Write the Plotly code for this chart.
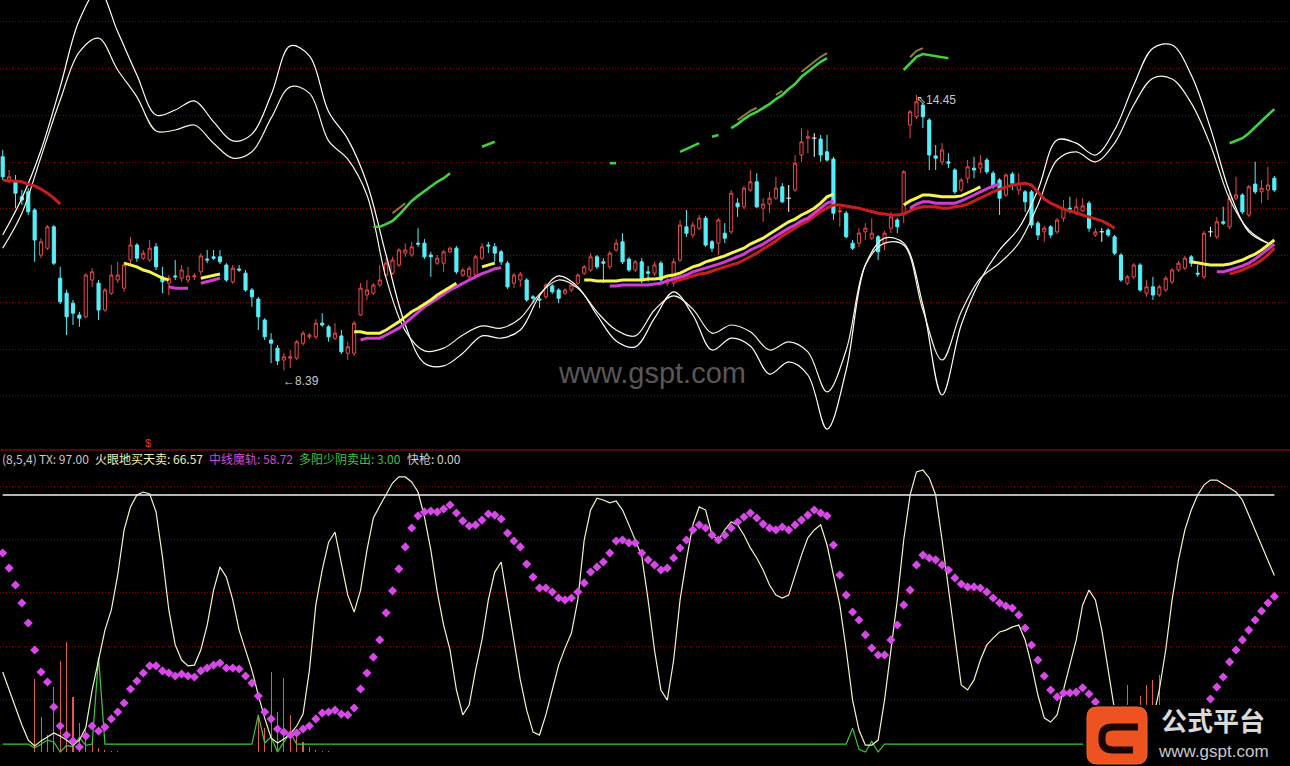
import plotly.graph_objects as go

# ---------------- candles (price) ----------------
open_ = [13.09, 12.58, 12.54, 12.21, 12.32, 11.92, 10.93, 11.08, 11.55, 10.42,
 10.09, 9.87, 9.61, 9.57, 10.38, 10.31, 9.72, 10.09, 10.38, 10.20,
 10.82, 11.15, 10.86, 10.82, 11.11, 10.45, 10.31, 10.47, 10.42, 10.38,
 10.45, 10.56, 10.84, 10.89, 10.89, 10.71, 10.34, 10.62, 10.53, 10.16,
 9.96, 9.50, 9.06, 8.88, 8.62, 8.66, 8.66, 8.99, 9.13, 9.13,
 9.43, 9.35, 9.10, 9.15, 8.77, 8.77, 9.61, 10.05, 10.09, 10.27,
 10.49, 10.53, 10.71, 10.97, 10.93, 11.19, 11.19, 10.93, 10.75, 10.75,
 11.00, 11.08, 10.49, 10.45, 10.49, 10.86, 11.15, 11.11, 11.00, 10.75,
 10.31, 10.38, 10.38, 10.01, 9.96, 10.01, 10.25, 10.16, 10.09, 10.16,
 10.31, 10.53, 10.60, 10.89, 10.78, 10.67, 11.04, 11.22, 10.84, 10.60,
 10.78, 10.56, 10.53, 10.75, 10.31, 10.31, 10.82, 11.55, 11.37, 11.52,
 11.74, 11.22, 11.19, 11.41, 11.44, 12.07, 11.99, 12.36, 12.54, 11.96,
 12.05, 12.18, 12.43, 12.18, 12.36, 13.13, 13.50, 13.50, 13.48, 13.20,
 13.04, 11.88, 11.85, 11.19, 11.19, 11.44, 11.30, 11.33, 11.19, 11.52,
 11.70, 11.85, 13.79, 13.97, 14.23, 13.90, 13.11, 12.98, 12.98, 12.80,
 12.36, 12.62, 12.84, 12.84, 13.02, 12.73, 12.58, 12.25, 12.71, 12.36,
 12.32, 12.32, 11.63, 11.44, 11.55, 11.44, 11.74, 11.96, 11.85, 11.90,
 12.07, 11.37, 11.44, 11.48, 11.33, 10.93, 10.31, 10.45, 10.71, 10.09,
 10.23, 10.05, 10.16, 10.34, 10.60, 10.64, 10.89, 10.53, 10.45, 11.44,
 11.33, 11.66, 11.55, 12.18, 12.25, 11.81, 12.49, 12.32, 12.36, 12.62]
high_ = [13.24, 12.80, 12.69, 12.36, 12.40, 11.96, 11.30, 11.59, 11.59, 10.67,
 10.16, 9.94, 9.68, 10.53, 10.64, 10.38, 10.20, 10.71, 10.78, 10.78,
 11.33, 11.19, 11.04, 11.26, 11.19, 10.67, 10.49, 10.82, 10.71, 10.67,
 10.53, 10.97, 11.04, 11.04, 11.04, 10.75, 10.71, 10.71, 10.60, 10.20,
 10.01, 9.54, 9.21, 8.95, 8.77, 8.84, 9.06, 9.26, 9.21, 9.52,
 9.65, 9.39, 9.43, 9.28, 9.02, 9.48, 10.31, 10.38, 10.31, 10.71,
 10.86, 10.89, 11.08, 11.19, 11.22, 11.52, 11.28, 11.00, 10.93, 11.04,
 11.11, 11.13, 10.64, 10.69, 10.93, 11.19, 11.22, 11.19, 11.04, 10.80,
 10.53, 10.56, 10.42, 10.05, 10.03, 10.31, 10.29, 10.20, 10.20, 10.31,
 10.53, 10.71, 10.97, 10.93, 10.86, 11.02, 11.28, 11.41, 10.89, 10.82,
 10.86, 10.69, 10.78, 10.80, 10.45, 10.86, 11.70, 11.92, 11.66, 11.81,
 11.79, 11.26, 11.74, 11.63, 12.36, 12.18, 12.45, 12.80, 12.73, 12.18,
 12.32, 12.65, 12.51, 12.47, 13.13, 13.72, 13.68, 13.61, 13.57, 13.57,
 13.09, 11.99, 11.90, 11.26, 11.52, 11.63, 11.74, 11.37, 11.46, 11.88,
 11.74, 12.80, 14.12, 14.45, 14.28, 13.94, 13.35, 13.39, 13.17, 12.84,
 12.62, 13.02, 13.09, 13.13, 13.06, 12.78, 12.62, 12.73, 12.76, 12.73,
 12.36, 12.36, 11.68, 11.57, 11.59, 11.74, 12.14, 12.21, 12.18, 12.18,
 12.12, 11.52, 11.52, 11.52, 11.37, 10.97, 10.49, 10.75, 10.75, 10.38,
 10.45, 10.27, 10.47, 10.64, 10.80, 10.91, 10.93, 10.71, 11.46, 11.55,
 11.77, 11.99, 12.29, 12.65, 12.29, 12.47, 12.98, 12.58, 12.87, 12.67]
low_ = [12.58, 12.51, 11.96, 12.03, 11.81, 10.78, 10.86, 11.04, 10.71, 9.85,
 9.17, 9.39, 9.35, 9.54, 10.23, 9.50, 9.68, 10.05, 10.31, 10.12,
 10.71, 10.78, 10.82, 10.78, 10.60, 10.09, 10.05, 10.38, 10.34, 10.31,
 10.38, 10.49, 10.75, 10.82, 10.73, 10.34, 10.29, 10.56, 10.12, 9.79,
 9.28, 9.06, 8.55, 8.51, 8.39, 8.44, 8.62, 8.93, 9.08, 9.08,
 9.35, 9.02, 9.06, 8.75, 8.62, 8.71, 9.59, 9.94, 10.05, 10.23,
 10.45, 10.49, 10.67, 10.89, 10.89, 11.11, 10.84, 10.45, 10.71, 10.56,
 10.97, 10.51, 10.45, 10.40, 10.45, 10.82, 10.97, 10.78, 10.71, 10.18,
 10.20, 10.23, 9.90, 9.87, 9.76, 9.96, 10.07, 9.87, 10.05, 10.12,
 10.27, 10.49, 10.56, 10.62, 10.31, 10.62, 11.00, 10.73, 10.56, 10.56,
 10.31, 10.34, 10.47, 10.31, 10.25, 10.23, 10.78, 11.33, 11.30, 11.48,
 11.11, 11.00, 10.93, 11.19, 11.39, 11.77, 11.94, 12.32, 11.96, 11.66,
 11.85, 12.14, 12.07, 11.88, 12.32, 12.98, 13.17, 13.09, 12.98, 12.98,
 11.70, 11.55, 11.30, 11.04, 11.11, 11.26, 11.26, 10.82, 11.04, 11.41,
 11.41, 11.63, 13.50, 13.92, 13.72, 12.80, 12.80, 12.91, 12.84, 12.27,
 12.32, 12.51, 12.62, 12.73, 12.71, 12.38, 11.81, 12.21, 12.36, 12.25,
 11.88, 11.52, 11.26, 11.22, 11.30, 11.39, 11.66, 11.85, 11.81, 11.88,
 11.44, 11.33, 11.22, 11.33, 10.93, 10.34, 10.27, 10.40, 10.12, 10.01,
 9.94, 10.01, 10.12, 10.29, 10.56, 10.60, 10.67, 10.45, 10.40, 11.33,
 11.28, 11.59, 11.50, 12.14, 11.83, 11.77, 12.27, 12.07, 12.14, 12.32]
close_ = [12.65, 12.65, 12.29, 12.14, 11.88, 11.26, 11.22, 11.55, 10.75, 9.90,
 9.57, 9.65, 9.54, 10.49, 10.56, 9.72, 10.16, 10.49, 10.49, 10.71,
 11.15, 10.86, 10.97, 11.08, 10.67, 10.34, 10.42, 10.45, 10.60, 10.47,
 10.47, 10.91, 10.82, 10.86, 10.78, 10.38, 10.64, 10.60, 10.16, 10.01,
 9.57, 9.13, 8.99, 8.60, 8.69, 8.69, 9.02, 9.21, 9.17, 9.43,
 9.39, 9.13, 9.21, 8.80, 8.91, 9.43, 10.20, 10.16, 10.27, 10.38,
 10.75, 10.82, 11.04, 11.04, 11.11, 11.17, 10.89, 10.89, 10.86, 11.00,
 11.08, 10.56, 10.60, 10.64, 10.89, 11.11, 11.13, 10.97, 10.78, 10.23,
 10.49, 10.51, 9.94, 9.98, 9.94, 10.27, 10.12, 9.98, 10.16, 10.27,
 10.49, 10.67, 10.89, 10.67, 10.75, 10.97, 11.19, 10.78, 10.60, 10.78,
 10.38, 10.53, 10.71, 10.38, 10.38, 10.78, 11.59, 11.41, 11.59, 11.74,
 11.15, 11.08, 11.70, 11.30, 12.29, 11.99, 12.40, 12.54, 11.99, 12.05,
 12.18, 12.40, 12.10, 12.18, 12.95, 13.42, 13.53, 13.50, 13.13, 13.02,
 11.85, 11.90, 11.33, 11.08, 11.41, 11.52, 11.41, 11.00, 11.41, 11.77,
 11.55, 12.76, 14.08, 14.30, 13.97, 13.13, 13.06, 13.24, 12.95, 12.32,
 12.58, 12.87, 12.80, 12.95, 12.76, 12.43, 12.18, 12.69, 12.51, 12.51,
 12.10, 11.59, 11.37, 11.52, 11.37, 11.70, 11.96, 11.94, 11.99, 12.01,
 11.52, 11.44, 11.44, 11.37, 10.97, 10.38, 10.45, 10.71, 10.16, 10.23,
 10.05, 10.23, 10.42, 10.60, 10.75, 10.86, 10.75, 10.51, 11.41, 11.44,
 11.66, 11.63, 12.18, 12.25, 11.88, 12.43, 12.32, 12.40, 12.47, 12.36]

# ---------------- white twin band (sampled every 3 bars) ----------------
band_x = [0, 3, 6, 9, 12, 15, 18, 21, 24, 27, 30, 33, 36, 39, 42, 45, 48, 51, 54, 57,
          60, 63, 66, 69, 72, 75, 78, 81, 84, 87, 90, 93, 96, 99, 102, 105, 108, 111,
          114, 117, 120, 123, 126, 129, 132, 135, 138, 141, 144, 147, 150, 153, 156,
          159, 162, 165, 168, 171, 174, 177, 180, 183, 186, 189, 192, 195, 198]
band_inner = [11.08, 11.85, 13.09, 14.34, 15.40, 15.70, 15.00, 14.41, 13.66, 13.68,
 13.79, 13.39, 13.06, 13.20, 13.94, 14.63, 14.49, 13.44, 13.04, 12.25,
 10.42, 9.26, 8.82, 8.88, 9.17, 9.37, 9.32, 9.54, 10.07, 10.38,
 10.20, 9.68, 9.28, 9.15, 9.72, 10.03, 9.74, 9.21, 9.39, 9.24,
 8.84, 9.02, 8.80, 7.92, 8.84, 10.71, 11.19, 11.15, 9.72, 8.62,
 9.68, 10.42, 10.75, 11.19, 12.03, 13.02, 13.20, 12.98, 13.39, 14.23,
 14.82, 14.80, 14.27, 13.35, 12.16, 11.48, 11.19]
band_outer = [11.37, 12.18, 13.24, 14.63, 16.10, 16.76, 15.84, 14.89, 14.01, 14.12,
 14.32, 13.86, 13.44, 13.59, 14.45, 15.53, 15.31, 14.08, 13.48, 12.51,
 10.93, 9.39, 8.55, 8.49, 8.77, 9.15, 9.10, 9.28, 10.03, 10.47,
 10.23, 9.61, 9.04, 8.91, 9.54, 10.12, 9.61, 8.84, 9.10, 8.93,
 8.31, 8.58, 8.29, 7.10, 8.40, 10.71, 11.30, 11.19, 9.83, 7.85,
 9.39, 10.38, 11.04, 11.52, 12.36, 13.46, 13.39, 13.13, 13.68, 14.67,
 15.48, 15.55, 14.89, 13.72, 12.32, 11.44, 11.19]

# ---------------- conditional line pieces: (first bar, values) ----------------
red_ma_segments = [
    (0, [12.58, 12.56, 12.56, 12.54, 12.49, 12.45, 12.38, 12.29, 12.18, 12.05]),
    (105, [10.34, 10.38, 10.42, 10.47, 10.51, 10.53, 10.58, 10.62, 10.67, 10.71,
           10.75, 10.82, 10.89, 10.97, 11.06, 11.15, 11.24, 11.35, 11.44, 11.52,
           11.61, 11.68, 11.79, 11.88, 11.96, 12.03, 12.03, 12.01, 11.99, 11.96,
           11.92, 11.88, 11.85, 11.83, 11.81, 11.81, 11.83, 11.90, 11.96, 11.99,
           11.99, 11.99, 11.96, 11.96, 11.99, 12.01, 12.05, 12.12, 12.18, 12.25,
           12.32, 12.38, 12.43, 12.47, 12.49, 12.51, 12.47, 12.32, 12.16, 12.07,
           12.01, 11.94, 11.90, 11.85, 11.81, 11.77, 11.72, 11.68, 11.61, 11.52]),
    (192, [10.51, 10.56, 10.60, 10.67, 10.73, 10.82, 10.93, 11.08]),
]
yellow_segments = [
    (19, [10.75, 10.71, 10.67, 10.60, 10.56, 10.49, 10.42, 10.38]),
    (31, [10.42, 10.45, 10.47, 10.51]),
    (55, [9.24, 9.24, 9.21, 9.21, 9.21, 9.28, 9.37, 9.46, 9.57, 9.68, 9.76, 9.85,
          9.94, 10.05, 10.14, 10.23, 10.31]),
    (75, [10.67, 10.71, 10.75]),
    (91, [10.38, 10.38, 10.36, 10.36, 10.36, 10.36, 10.38, 10.38, 10.38, 10.38,
          10.40, 10.40, 10.42, 10.47, 10.49, 10.53, 10.60, 10.67, 10.71, 10.78,
          10.82, 10.86, 10.91, 10.97, 11.02, 11.08, 11.17, 11.24, 11.30, 11.39,
          11.48, 11.57, 11.66, 11.72, 11.81, 11.88, 11.96, 12.07, 12.21, 12.27]),
    (141, [12.03, 12.12, 12.18, 12.25, 12.25, 12.23, 12.21, 12.21, 12.21, 12.23,
           12.29, 12.36, 12.43]),
    (186, [10.78, 10.75, 10.73, 10.71, 10.71, 10.71, 10.73, 10.78, 10.82, 10.89,
           10.95, 11.04, 11.15, 11.26]),
]
magenta_segments = [
    (26, [10.23, 10.20, 10.20, 10.20]),
    (31, [10.31, 10.34, 10.38, 10.42]),
    (56, [9.06, 9.10, 9.10, 9.10, 9.17, 9.24, 9.32, 9.43, 9.55, 9.68, 9.79, 9.88,
          9.97, 10.07, 10.16, 10.23, 10.31, 10.38, 10.45, 10.52, 10.57, 10.63, 10.65]),
    (95, [10.25, 10.25, 10.27, 10.27, 10.27, 10.27, 10.27, 10.29, 10.31, 10.36,
          10.40, 10.45, 10.49, 10.56, 10.60, 10.64, 10.69, 10.73, 10.78, 10.84,
          10.89, 10.95, 11.04, 11.11, 11.17, 11.26, 11.35, 11.44, 11.52, 11.59,
          11.68, 11.74, 11.85, 11.96, 12.07, 12.12]),
    (142, [11.96, 12.05, 12.10, 12.10, 12.07, 12.07, 12.07, 12.07, 12.12, 12.18,
           12.25, 12.32, 12.38, 12.45, 12.49]),
    (190, [10.56, 10.56, 10.60, 10.64, 10.69, 10.75, 10.84, 10.95, 11.06, 11.17]),
]
green_segments = [
    (58, [11.55, 11.55, 11.61, 11.68, 11.81, 11.96, 12.12, 12.23, 12.34, 12.45,
          12.54, 12.62, 12.73]),
    (75, [13.31, 13.37, 13.42]),
    (95, [12.95, 12.95]),
    (106, [13.20, 13.26, 13.33, 13.39]),
    (111, [13.53, 13.57]),
    (114, [13.72, 13.81, 13.92, 14.01, 14.08, 14.16, 14.25, 14.36, 14.45, 14.58,
           14.69, 14.85, 14.96, 15.09, 15.18, 15.26]),
    (141, [15.00, 15.15, 15.29, 15.35, 15.33, 15.31, 15.29, 15.26]),
    (192, [13.39, 13.44, 13.50, 13.61, 13.75, 13.88, 14.01, 14.14]),
]
brown_segments = [
    (61, [11.85, 11.96, 12.07]),
    (115, [13.90, 14.01, 14.10, 14.17]),
    (121, [14.45, 14.54]),
    (125, [14.96, 15.07, 15.20, 15.29, 15.37]),
    (142, [15.28, 15.42, 15.48]),
]

# ---------------- lower indicator pane ----------------
tx_level = 97.0
fire_eye = [30.2, 23.4, 16.6, 10.2, 4.5, 2.3, 4.2, 5.7, 7.2, 6.0,
 4.5, 2.6, 4.5, 9.1, 23.4, 34.7, 46.0, 53.6, 66.8, 83.8,
 92.5, 97.0, 98.1, 97.4, 90.6, 73.6, 53.6, 40.4, 34.7, 32.5,
 32.8, 38.5, 47.9, 61.1, 69.8, 66.0, 57.4, 46.0, 38.5, 30.9,
 21.5, 12.8, 5.3, 3.4, 4.9, 6.8, 9.8, 14.3, 30.9, 55.5,
 68.7, 79.2, 83.0, 71.7, 59.2, 52.8, 61.1, 76.2, 88.3, 92.8,
 97.0, 101.5, 103.8, 103.8, 101.9, 98.1, 88.7, 76.2, 60.4, 47.9,
 38.5, 23.4, 14.0, 17.7, 30.9, 42.3, 57.4, 67.9, 71.7, 57.4,
 42.3, 27.2, 15.8, 7.5, 6.4, 14.0, 23.4, 32.8, 39.2, 44.9,
 57.4, 80.0, 91.3, 95.8, 95.1, 94.0, 94.7, 91.3, 85.7, 80.0,
 74.0, 57.4, 38.5, 23.4, 19.6, 34.7, 57.4, 72.5, 85.7, 92.5,
 91.3, 81.9, 80.0, 83.8, 86.8, 85.7, 81.9, 77.0, 73.2, 68.7,
 63.0, 59.2, 58.1, 59.2, 66.8, 74.3, 80.8, 83.8, 85.7, 78.1,
 66.8, 55.5, 38.5, 19.6, 8.3, 2.6, 2.6, 4.5, 19.6, 38.5,
 57.4, 80.0, 97.0, 105.7, 106.4, 103.4, 97.0, 80.0, 61.1, 42.3,
 25.3, 23.4, 27.2, 34.7, 40.4, 43.0, 45.3, 46.0, 47.2, 47.9,
 42.3, 32.8, 21.5, 12.8, 11.3, 14.0, 23.4, 32.8, 42.3, 55.5,
 61.1, 57.4, 46.0, 30.9, 15.8, 6.4, 2.6, 2.3, 2.6, 4.5,
 12.1, 23.4, 38.5, 57.4, 72.5, 83.8, 91.3, 97.0, 100.8, 102.6,
 102.6, 101.1, 99.6, 98.1, 95.1, 89.4, 83.8, 78.1, 72.5, 66.57]
mid_track = [75.1, 69.4, 63.0, 56.2, 48.7, 38.5, 30.2, 26.4, 17.0, 9.8,
 6.4, 4.2, 1.9, 6.0, 9.8, 7.9, 9.4, 12.5, 15.1, 18.5,
 23.8, 26.8, 29.8, 32.5, 32.5, 30.6, 29.8, 28.7, 29.4, 28.7,
 28.3, 30.6, 31.7, 32.8, 33.6, 31.7, 31.7, 31.3, 28.7, 26.0,
 21.1, 15.1, 12.5, 8.7, 7.5, 6.4, 7.2, 8.7, 9.8, 12.5,
 14.7, 15.1, 15.8, 14.3, 14.0, 16.6, 23.8, 29.8, 35.8, 42.3,
 52.5, 60.8, 69.1, 77.4, 84.5, 89.1, 90.6, 90.9, 90.6, 91.7,
 93.2, 90.2, 87.2, 85.3, 85.7, 87.5, 89.8, 89.4, 87.9, 82.6,
 79.6, 77.4, 70.9, 66.0, 61.9, 61.9, 60.4, 58.1, 57.4, 58.1,
 60.4, 63.8, 67.9, 69.8, 71.7, 75.1, 79.6, 80.0, 78.9, 78.9,
 75.1, 72.5, 70.6, 68.7, 69.4, 73.2, 77.0, 80.0, 83.8, 85.7,
 84.5, 81.9, 80.0, 81.9, 84.5, 86.8, 88.7, 90.2, 88.3, 86.0,
 84.5, 83.8, 84.9, 83.8, 85.7, 87.5, 89.4, 91.3, 90.2, 89.1,
 78.1, 66.8, 59.2, 52.8, 49.8, 44.2, 39.2, 36.6, 36.6, 42.3,
 47.9, 55.5, 61.1, 70.6, 74.3, 73.2, 72.5, 70.6, 68.7, 65.7,
 63.4, 62.3, 62.3, 61.9, 60.4, 58.1, 56.2, 55.1, 54.3, 51.7,
 46.8, 40.4, 34.7, 28.7, 23.4, 20.8, 22.3, 22.3, 22.6, 24.2,
 21.9, 18.9, 15.8, 14.0, 12.1, 10.2, 9.1, 7.5, 6.4, 5.7,
 5.3, 5.3, 5.7, 6.4, 7.5, 9.1, 11.3, 13.6, 16.2, 20.0,
 24.5, 28.3, 34.0, 38.5, 42.3, 46.0, 49.8, 53.2, 56.2, 58.72]
sell_line = [3, 3, 3, 3, 3, 1.5, 3, 4.5, 3.8, 0, 2.5, 2, 5.5, 2.5, 3, 35.8, 3, 3, 3, 3,
 3, 3, 3, 3, 3, 3, 3, 3, 3, 3, 3, 3, 3, 3, 3, 3, 3, 3, 3, 3,
 14, 3.4, 5.7, 0, 3.8, 7.2, 3, 3, 3, 3, 3, 3, 3, 3, 3, 3, 3, 3, 3, 3,
 3, 3, 3, 3, 3, 3, 3, 3, 3, 3, 3, 3, 3, 3, 3, 3, 3, 3, 3, 3,
 3, 3, 3, 3, 3, 3, 3, 3, 3, 3, 3, 3, 3, 3, 3, 3, 3, 3, 3, 3,
 3, 3, 3, 3, 3, 3, 3, 3, 3, 3, 3, 3, 3, 3, 3, 3, 3, 3, 3, 3,
 3, 3, 3, 3, 3, 3, 3, 3, 3, 3, 3, 3, 3, 9, 1, 0, 4, 0, 3, 3,
 3, 3, 3, 3, 3, 3, 3, 3, 3, 3, 3, 3, 3, 3, 3, 3, 3, 3, 3, 3,
 3, 3, 3, 3, 3, 3, 3, 3, 3, 3, 3, 3, 3, 3, 3, 3, 3, 3, 3, 3,
 3, 3, 3, 3, 3, 3, 3, 3, 3, 3, 3, 3, 3, 3, 3, 3, 3, 3, 3, 3.0]
quick_gun_bars = {5: 27.5, 6: 13.2, 7: 6.4, 8: 24.5, 9: 34.3, 10: 41.5, 11: 20.8, 12: 10.9,
                  13: 8.3, 14: 3.8, 15: 1.5, 16: 0.8, 17: 0.5, 18: 0.5,
                  40: 13.2, 41: 9.1, 42: 30.2, 43: 15.1, 44: 27.9, 45: 14.0, 46: 7.2,
                  47: 3.8, 48: 1.9, 49: 0.6, 50: 0.5, 51: 0.5,
                  176: 25.3, 177: 12.0, 178: 21.1, 179: 25.3, 180: 27.2, 181: 29.1}
quick_gun_last = 0.00

upper_grid = [16.06, 15.03, 14.00, 12.97, 11.95, 10.92, 9.89, 8.86, 7.84]
lower_grid = [20, 40, 60, 80, 100]

# ---------------- figure ----------------
N = len(close_)
bars = list(range(N))
W, H = 1290, 766


def py(p):
    return 1 - p / H  # pixel row -> paper y


fig = go.Figure()

doji = [i for i in bars if open_[i] == close_[i]]
body = [i for i in bars if i not in doji]
fig.add_trace(go.Candlestick(
    x=body, open=[open_[i] for i in body], high=[high_[i] for i in body],
    low=[low_[i] for i in body], close=[close_[i] for i in body],
    increasing=dict(line=dict(color='#e8484a', width=1), fillcolor='#000000'),
    decreasing=dict(line=dict(color='#54f0fa', width=1), fillcolor='#54f0fa'),
    whiskerwidth=0, xaxis='x', yaxis='y', hoverinfo='skip'))
dx, dy = [], []
for i in doji:
    dx += [i, i, None, i - 0.35, i + 0.35, None]
    dy += [high_[i], low_[i], None, open_[i], open_[i], None]
fig.add_trace(go.Scatter(x=dx, y=dy, mode='lines', line=dict(color='#ffffff', width=1),
                         xaxis='x', yaxis='y', hoverinfo='skip'))

fig.add_trace(go.Scatter(x=band_x, y=band_outer, mode='lines',
                         line=dict(color='#ffffff', width=1.2, shape='spline', smoothing=1.0),
                         xaxis='x', yaxis='y', hoverinfo='skip'))
fig.add_trace(go.Scatter(x=band_x, y=band_inner, mode='lines',
                         line=dict(color='#f6f6dc', width=1.2, shape='spline', smoothing=1.0),
                         xaxis='x', yaxis='y', hoverinfo='skip'))


def add_segments(segs, color, width):
    for start, vals in segs:
        fig.add_trace(go.Scatter(x=list(range(start, start + len(vals))), y=vals, mode='lines',
                                 line=dict(color=color, width=width), xaxis='x', yaxis='y',
                                 hoverinfo='skip'))


add_segments(red_ma_segments, '#c81e1e', 3)
add_segments(magenta_segments, '#d23cd2', 3)
add_segments(yellow_segments, '#f5f550', 3)
add_segments(green_segments, '#40d040', 2.6)
add_segments(brown_segments, '#8c7c40', 2)

# lower pane
gun = [quick_gun_bars.get(i, 0.0) for i in bars]
fig.add_trace(go.Bar(x=bars, y=gun, width=0.17, marker=dict(color='#e05a50', line=dict(width=0)),
                     xaxis='x', yaxis='y2', hoverinfo='skip'))
fig.add_trace(go.Scatter(x=bars, y=sell_line, mode='lines', line=dict(color='#3cc83c', width=1.2),
                         xaxis='x', yaxis='y2', hoverinfo='skip'))
fig.add_trace(go.Scatter(x=bars, y=fire_eye, mode='lines', line=dict(color='#f4f4c8', width=1.2),
                         xaxis='x', yaxis='y2', hoverinfo='skip'))
fig.add_trace(go.Scatter(x=[bars[0], bars[-1]], y=[tx_level, tx_level], mode='lines',
                         line=dict(color='#f0f0f0', width=1.5), xaxis='x', yaxis='y2', hoverinfo='skip'))
fig.add_trace(go.Scatter(x=bars, y=mid_track, mode='markers',
                         marker=dict(symbol='diamond', size=7, color='#d848e8', line=dict(width=0)),
                         xaxis='x', yaxis='y2', hoverinfo='skip'))

grid_style = dict(showgrid=True, gridcolor='#8a0000', griddash='1px,2px', gridwidth=1,
                  zeroline=False, showticklabels=False, ticks='', showline=False, fixedrange=True)

imin = low_.index(min(low_))
imax = high_.index(max(high_))

annotations = [
    dict(x=imin, y=low_[imin], xref='x', yref='y', text='\u2190' + f'{low_[imin]:.2f}', showarrow=False,
         xanchor='left', yanchor='middle', xshift=-3, yshift=-11,
         font=dict(family='Liberation Sans', size=12, color='#c8c8c8')),
    dict(x=imax, y=high_[imax], xref='x', yref='y', text='\u21d6' + f'{high_[imax]:.2f}', showarrow=False,
         xanchor='left', yanchor='middle', xshift=-2, yshift=-5,
         font=dict(family='Liberation Sans', size=12, color='#c8c8c8')),
    dict(x=652 / W, y=py(373), xref='paper', yref='paper', text='www.gspt.com', showarrow=False,
         xanchor='center', yanchor='middle',
         font=dict(family='Liberation Sans', size=29, color='#585858')),
    dict(x=148 / W, y=py(443), xref='paper', yref='paper', text='$', showarrow=False,
         xanchor='center', yanchor='middle',
         font=dict(family='Liberation Sans', size=11, color='#e03030')),
]
header = [
    (0, '(8,5,4)', '#c8c8c8'),
    (37, f'TX: {tx_level:.2f}', '#c8c8c8'),
    (93, f'火眼地买天卖: {fire_eye[-1]:.2f}', '#eeeeb4'),
    (207, f'中线魔轨: {mid_track[-1]:.2f}', '#d24ad2'),
    (297, f'多阳少阴卖出: {sell_line[-1]:.2f}', '#40c040'),
    (405, f'快枪: {quick_gun_last:.2f}', '#d0d0d0'),
]
for x0, txt, col in header:
    annotations.append(dict(x=x0 / W, y=py(458), xref='paper', yref='paper', text=txt, showarrow=False,
                            xanchor='left', yanchor='middle',
                            font=dict(family='Noto Sans CJK SC', size=12, color=col)))
annotations += [
    dict(x=1213 / W, y=py(719), xref='paper', yref='paper', text='<b>公式平台</b>', showarrow=False,
         xanchor='center', yanchor='middle',
         font=dict(family='Noto Sans CJK SC', size=26, color='#d9d9d9')),
    dict(x=1213 / W, y=py(751), xref='paper', yref='paper', text='www.gspt.com', showarrow=False,
         xanchor='center', yanchor='middle',
         font=dict(family='Liberation Sans', size=17, color='#c8c8c8')),
]


def P(x, y):
    return f'{x / W:.5f},{py(y):.5f}'


logo_box = ('M ' + P(1097, 707) + ' L ' + P(1137, 707) + ' Q ' + P(1147, 707) + ' ' + P(1147, 717) +
            ' L ' + P(1147, 754) + ' Q ' + P(1147, 764) + ' ' + P(1137, 764) + ' L ' + P(1097, 764) +
            ' Q ' + P(1087, 764) + ' ' + P(1087, 754) + ' L ' + P(1087, 717) + ' Q ' + P(1087, 707) +
            ' ' + P(1097, 707) + ' Z')
logo_c = ('M ' + P(1138, 727) + ' L ' + P(1113, 727) + ' Q ' + P(1102, 727) + ' ' + P(1102, 737) +
          ' L ' + P(1102, 740) + ' Q ' + P(1102, 750) + ' ' + P(1113, 750) + ' L ' + P(1133, 750))

shapes = [
    dict(type='line', xref='paper', yref='paper', x0=0, x1=1, y0=py(450), y1=py(450),
         line=dict(color='#a01010', width=1)),
    dict(type='rect', xref='paper', yref='paper', x0=1083 / W, x1=1, y0=0, y1=py(705),
         fillcolor='#000000', line=dict(width=0), layer='above'),
    dict(type='path', xref='paper', yref='paper', path=logo_box, fillcolor='#ee5220',
         line=dict(color='#f06a30', width=1), layer='above'),
    dict(type='path', xref='paper', yref='paper', path=logo_c,
         line=dict(color='#1a0500', width=7), layer='above'),
]

fig.update_layout(
    width=W, height=H, margin=dict(l=0, r=0, t=0, b=0),
    paper_bgcolor='#000000', plot_bgcolor='#000000', showlegend=False,
    xaxis=dict(range=[-0.4225, 201.45], showgrid=False, zeroline=False, showticklabels=False,
               ticks='', showline=False, rangeslider=dict(visible=False), fixedrange=True),
    yaxis=dict(domain=[py(450), 1], range=[6.64, 16.54], tickvals=upper_grid, **grid_style),
    yaxis2=dict(domain=[0, py(452)], range=[-5.28, 113.2], tickvals=lower_grid, **grid_style),
    annotations=annotations, shapes=shapes, bargap=0,
)

fig.write_html('out.html', config={'displayModeBar': False, 'staticPlot': True},
               post_script="document.body.style.margin='0px';document.body.style.overflow='hidden';"
                           "document.body.style.background='#000';")
